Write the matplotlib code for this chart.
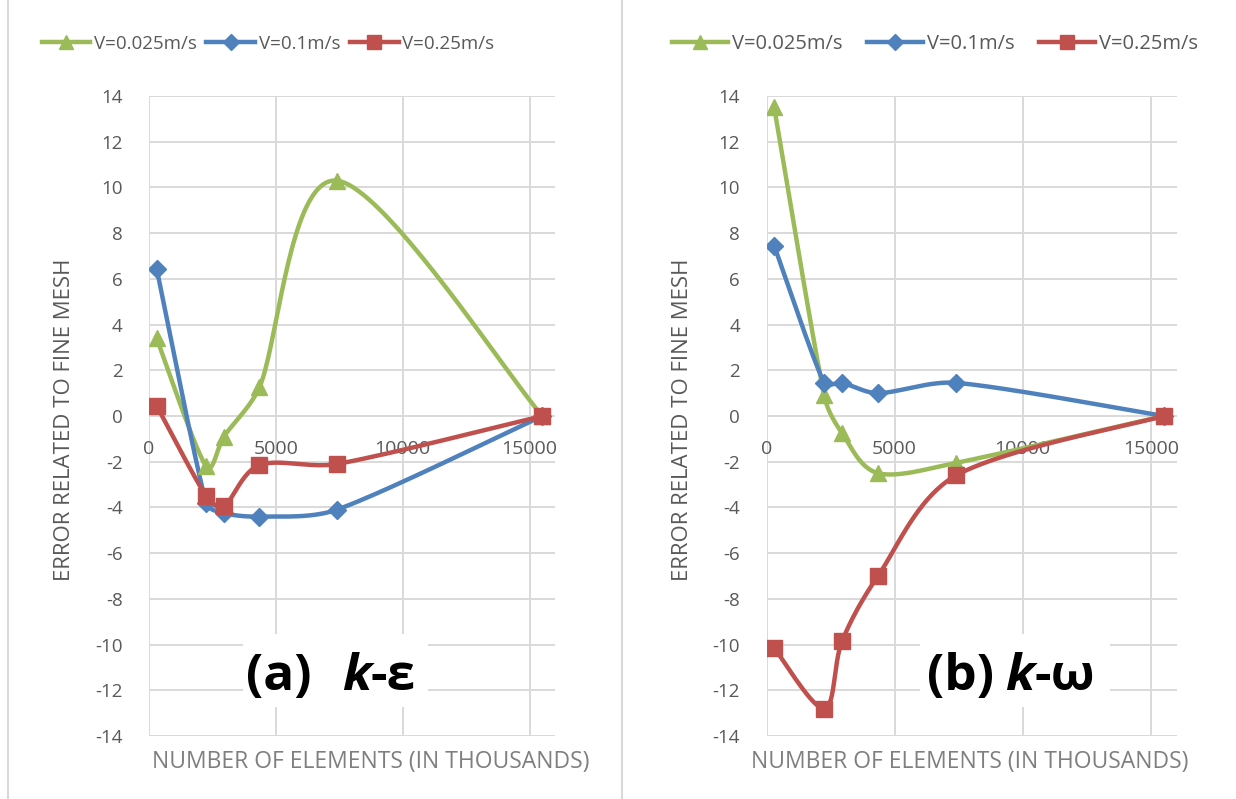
import numpy as np
import matplotlib
matplotlib.use('Agg')
import matplotlib.pyplot as plt
from matplotlib.lines import Line2D
from matplotlib.patches import Rectangle

plt.rcParams['font.family'] = ['Open Sans', 'DejaVu Sans']
plt.rcParams['axes.unicode_minus'] = False

# number of elements (in thousands) for each mesh
elements = [300, 2250, 2950, 4350, 7400, 15500]

# (a) k-epsilon
ke_v0025 = [3.4, -2.2, -0.9, 1.25, 10.3, 0]
ke_v01 = [6.45, -3.8, -4.25, -4.4, -4.1, 0]
ke_v025 = [0.45, -3.5, -3.95, -2.15, -2.1, 0]
# (b) k-omega
kw_v0025 = [13.5, 0.9, -0.75, -2.5, -2.05, 0]
kw_v01 = [7.45, 1.45, 1.45, 1.0, 1.45, 0]
kw_v025 = [-10.15, -12.8, -9.85, -7.0, -2.6, 0]

labels = ['V=0.025m/s', 'V=0.1m/s', 'V=0.25m/s']
yticks = list(range(-14, 15, 2))
xticks = [0, 5000, 10000, 15000]

colors = ['#9BBB59', '#4F81BD', '#C0504D']
markers = ['^', 'D', 's']
msizes = [11, 9.5, 11.5]
grey = '#595959'
gridc = '#d9d9d9'


def smooth_xy(ax, xs, ys, n=40, f=0.35):
    # smoothed line like excel: bezier through the points, worked out in pixels
    pts = ax.transData.transform(np.column_stack([xs, ys]))
    P = np.vstack([pts[0], pts, pts[-1]])
    tang = [(P[i + 1] - P[i - 1]) / 6 for i in range(1, len(P) - 1)]

    def clamp(v, L):
        n_ = np.hypot(*v)
        return v if n_ <= L or n_ == 0 else v * L / n_

    out = []
    t = np.linspace(0, 1, n)[:, None]
    for i in range(len(pts) - 1):
        p1, p2 = pts[i], pts[i + 1]
        L = np.hypot(*(p2 - p1)) * f
        c1 = p1 + clamp(tang[i], L)
        c2 = p2 - clamp(tang[i + 1], L)
        seg = (1 - t)**3 * p1 + 3 * (1 - t)**2 * t * c1 + 3 * (1 - t) * t**2 * c2 + t**3 * p2
        out.append(seg if i == 0 else seg[1:])
    out = ax.transData.inverted().transform(np.vstack(out))
    return out[:, 0], out[:, 1]


fig = plt.figure(figsize=(12.36, 7.99), dpi=100)
ax1 = fig.add_axes([149 / 1236, 1 - 736 / 799, 406 / 1236, 640 / 799])
ax2 = fig.add_axes([766.5 / 1236, 1 - 736 / 799, 410 / 1236, 640 / 799])

panels = [
    (ax1, [ke_v0025, ke_v01, ke_v025]),
    (ax2, [kw_v0025, kw_v01, kw_v025]),
]

for ax, series in panels:
    ax.set_xlim(0, 16000)
    ax.set_ylim(-14, 14)
    ax.set_xticks(xticks)
    ax.set_yticks(yticks)
    ax.grid(True, color=gridc, lw=1.4)
    ax.set_axisbelow(True)
    for s in ax.spines.values():
        s.set_color('none')
    ax.spines['bottom'].set_position(('data', 0))
    ax.tick_params(axis='both', length=0, colors=grey)
    ax.tick_params(axis='x', labelsize=14, pad=17)
    ax.tick_params(axis='y', labelsize=13.5, pad=19)
    for vals, c, m, ms in zip(series, colors, markers, msizes):
        sx, sy = smooth_xy(ax, elements, vals)
        ax.plot(sx, sy, color=c, lw=3.2, zorder=3, solid_capstyle='round')
        ax.plot(elements, vals, linestyle='none', marker=m, ms=ms,
                color=c, zorder=3.5)


def panel_title(ax, x, y, parts):
    r = ax.figure.canvas.get_renderer()
    for txt, style, gap in parts:
        t = ax.text(x, y, txt, fontsize=37, fontweight='bold', style=style,
                    va='baseline', ha='left', zorder=5, color='black')
        bb = t.get_window_extent(r)
        x = ax.transData.inverted().transform((bb.x1 + gap, bb.y0))[0]


# white boxes behind the panel labels
ax1.add_patch(Rectangle((3700, -12.75), 7300, 3.2, facecolor='white',
                        edgecolor='none', zorder=1))
ax2.add_patch(Rectangle((6000, -12.75), 7400, 3.2, facecolor='white',
                        edgecolor='none', zorder=1))
panel_title(ax1, 3830, -12.0, [('(a)', 'normal', 30), ('k', 'italic', 0), ('-ε', 'normal', 0)])
panel_title(ax2, 6270, -12.0, [('(b)', 'normal', 11), ('k', 'italic', 0), ('-ω', 'normal', 0)])

# axis titles
for xc in [65, 683]:
    fig.text(xc / 1236, 1 - 420 / 799, 'ERROR RELATED TO FINE MESH', rotation=90,
             ha='center', va='center', fontsize=16, color=grey)
for xc in [371, 970]:
    fig.text(xc / 1236, 1 - 762 / 799, 'NUMBER OF ELEMENTS (IN THOUSANDS)',
             ha='center', va='center', fontsize=16.5, color='#7f7f7f')

# legends
handles = [Line2D([], [], color=c, lw=3.2, marker=m, ms=ms * 0.9)
           for c, m, ms in zip(colors, markers, msizes)]
fig.legend(handles, labels, loc='center', bbox_to_anchor=(268 / 1236, 1 - 44 / 799),
           ncol=3, frameon=False, fontsize=13.5, labelcolor=grey, handlelength=2.6,
           handletextpad=0.2, columnspacing=0.5, borderaxespad=0)
fig.legend(handles, labels, loc='center', bbox_to_anchor=(935 / 1236, 1 - 44 / 799),
           ncol=3, frameon=False, fontsize=14.5, labelcolor=grey, handlelength=2.8,
           handletextpad=0.2, columnspacing=1.2, borderaxespad=0)

# chart frame borders
for xb in [8, 622]:
    fig.add_artist(Line2D([xb / 1236, xb / 1236], [0, 1], color=gridc, lw=1.5))

fig.savefig('out.png', dpi=100)
